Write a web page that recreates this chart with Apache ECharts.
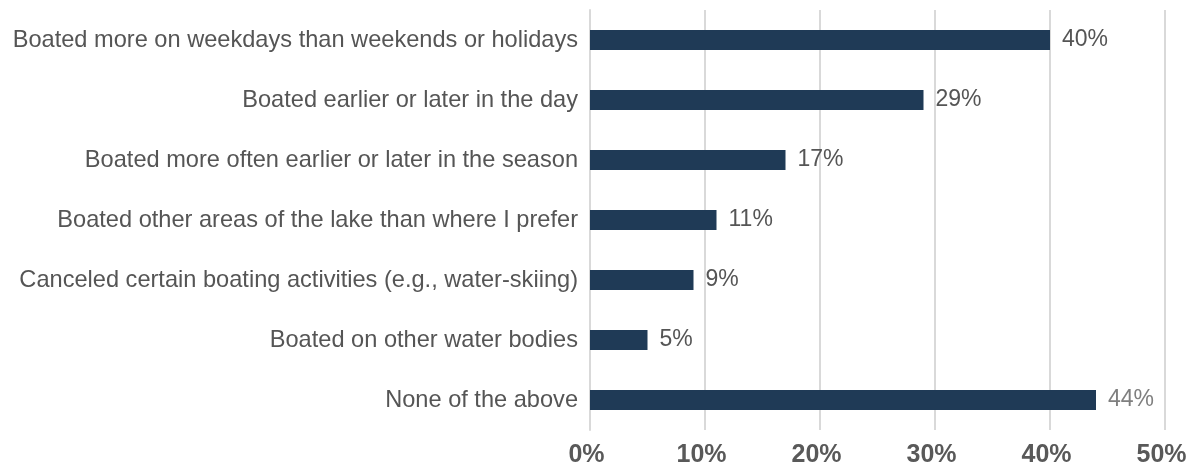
<!DOCTYPE html>
<html><head><meta charset="utf-8">
<script src="https://cdn.jsdelivr.net/npm/echarts@6/dist/echarts.min.js"></script>
<style>html,body{margin:0;padding:0;background:#fff}#c{width:1188px;height:470px}</style>
</head><body><div id="c"></div>
<script>
const categories = [
  "Boated more on weekdays than weekends or holidays",
  "Boated earlier or later in the day",
  "Boated more often earlier or later in the season",
  "Boated other areas of the lake than where I prefer",
  "Canceled certain boating activities (e.g., water-skiing)",
  "Boated on other water bodies",
  "None of the above"
];
const values = [40, 29, 17, 11, 9, 5, 44];
const tickValues = [0, 10, 20, 30, 40, 50];

const chart = echarts.init(document.getElementById('c'));
chart.setOption({
  animation: false,
  grid: { left: 590, right: 23, top: 10, bottom: 40, containLabel: false, outerBoundsMode: 'none' },
  xAxis: {
    type: 'value', min: tickValues[0], max: tickValues[tickValues.length - 1], interval: 10,
    axisLine: { show: false }, axisTick: { show: false },
    splitLine: { lineStyle: { color: '#D9D9D9', width: 2 } },
    axisLabel: { formatter: v => v + '%', color: '#595959', fontSize: 25, fontWeight: 'bold', fontFamily: 'Liberation Sans', margin: 13, padding: [0, 7, 0, 0] }
  },
  yAxis: {
    type: 'category', data: categories, inverse: true,
    axisLine: { show: true, lineStyle: { color: '#D9D9D9', width: 2 } },
    axisTick: { show: false },
    axisLabel: { color: '#555555', fontSize: 23.6, fontFamily: 'Liberation Sans', margin: 12 }
  },
  series: [{
    type: 'bar', data: values.map((v, i) => ({
      value: v,
      label: i === 6 ? { color: '#7F7F7F' } : {}
    })),
    barWidth: 20,
    itemStyle: { color: '#1F3A56' },
    label: { show: true, position: 'right', distance: 12, formatter: p => p.value + '%', color: '#555555', fontSize: 23, fontFamily: 'Liberation Sans' }
  }]
});
</script></body></html>
